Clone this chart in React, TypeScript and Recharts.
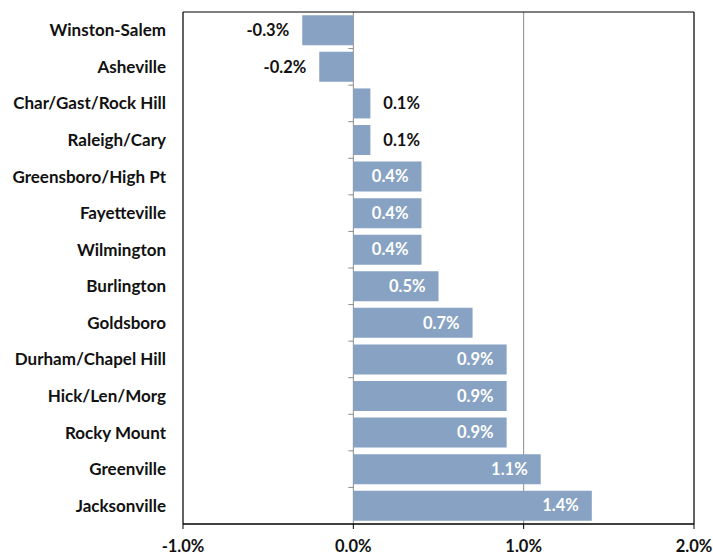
import { BarChart, Bar, XAxis, YAxis, CartesianGrid, ReferenceArea, LabelList } from 'recharts';

const categories = [
  'Winston-Salem',
  'Asheville',
  'Char/Gast/Rock Hill',
  'Raleigh/Cary',
  'Greensboro/High Pt',
  'Fayetteville',
  'Wilmington',
  'Burlington',
  'Goldsboro',
  'Durham/Chapel Hill',
  'Hick/Len/Morg',
  'Rocky Mount',
  'Greenville',
  'Jacksonville',
];

const values = [-0.3, -0.2, 0.1, 0.1, 0.4, 0.4, 0.4, 0.5, 0.7, 0.9, 0.9, 0.9, 1.1, 1.4];

const xTicks = [-1, 0, 1, 2];

const chartData = categories.map((name, i) => ({ name, value: values[i] }));

const FONT = 'Lato, "Open Sans", sans-serif';
const BAR_COLOR = '#87A2C2';

// plot area, used only to place the little Excel-style ticks on the zero line
const PLOT_LEFT = 183;
const PLOT_RIGHT = 694;
const PLOT_TOP = 12;
const PLOT_BOTTOM = 524;
const ZERO_X = PLOT_LEFT + (PLOT_RIGHT - PLOT_LEFT) / 3;
const BAND = (PLOT_BOTTOM - PLOT_TOP) / categories.length;

const CategoryTick = ({ x, y, payload, index }: any) => (
  <g>
    <text
      x={x - 9}
      y={y}
      dy="0.35em"
      textAnchor="end"
      fontFamily={FONT}
      fontWeight="bold"
      fontSize={17}
      fill="#111"
    >
      {payload.value}
    </text>
    {index > 0 && (
      <line x1={ZERO_X - 5} x2={ZERO_X} y1={y - BAND / 2} y2={y - BAND / 2} stroke="#8c8c8c" />
    )}
  </g>
);

const ValueLabel = ({ x, y, width, height, value }: any) => {
  const left = Math.min(x, x + width);
  const right = Math.max(x, x + width);
  const cy = y + height / 2;
  let tx = right - 13;
  let anchor: 'start' | 'end' = 'end';
  let fill = '#ffffff';
  if (value < 0) {
    tx = left - 13;
    fill = '#111';
  } else if (value < 0.3) {
    tx = right + 13;
    anchor = 'start';
    fill = '#111';
  }
  return (
    <text
      x={tx}
      y={cy}
      dy="0.35em"
      textAnchor={anchor}
      fontFamily={FONT}
      fontWeight="bold"
      fontSize={16.5}
      fill={fill}
    >
      {value.toFixed(1)}%
    </text>
  );
};

export default function App() {
  return (
    <div style={{ position: 'absolute', left: 0, top: 0, background: '#fff' }}>
      <BarChart
        layout="vertical"
        width={713}
        height={557}
        data={chartData}
        margin={{ top: PLOT_TOP, right: 713 - PLOT_RIGHT, bottom: 0, left: 0 }}
        barCategoryGap="9%"
      >
        <CartesianGrid horizontal={false} stroke="#8c8c8c" />
        <XAxis
          type="number"
          domain={[-1, 2]}
          ticks={xTicks}
          tickFormatter={(v: number) => `${v.toFixed(1)}%`}
          height={557 - PLOT_BOTTOM}
          tickSize={5}
          tickMargin={11}
          axisLine={{ stroke: '#000' }}
          tickLine={{ stroke: '#000' }}
          tick={{ fontFamily: FONT, fontWeight: 'bold', fontSize: 16.5, fill: '#111' }}
          interval={0}
        />
        <YAxis
          type="category"
          dataKey="name"
          width={PLOT_LEFT}
          axisLine={false}
          tickLine={false}
          tick={<CategoryTick />}
          interval={0}
        />
        <Bar dataKey="value" fill={BAR_COLOR} isAnimationActive={false}>
          <LabelList dataKey="value" content={<ValueLabel />} />
        </Bar>
        <ReferenceArea x1={-1} x2={2} fill="none" stroke="#000" strokeWidth={1} ifOverflow="visible" />
      </BarChart>
    </div>
  );
}
